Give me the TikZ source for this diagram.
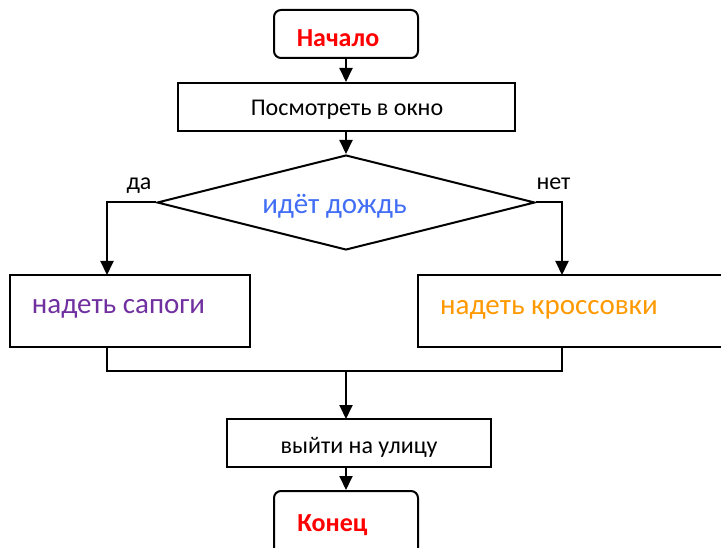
\documentclass[tikz,border=0pt]{standalone}
\usepackage{fontspec}
\setmainfont{Carlito}
\usetikzlibrary{shapes.geometric,arrows.meta}
\definecolor{cred}{RGB}{255,0,0}
\definecolor{cblue}{RGB}{65,110,245}
\definecolor{cpurple}{RGB}{112,48,160}
\definecolor{corange}{RGB}{255,153,0}
\begin{document}
\begin{tikzpicture}[x=1pt,y=-1pt,
  line width=2pt,
  arr/.style={-{Triangle[length=14pt,width=13pt]}},
  boxA/.style={draw,rectangle,inner sep=0pt},
  termbox/.style={draw,rectangle,rounded corners=7pt,inner sep=0pt},
  txtS/.style={inner sep=0pt,anchor=base,font=\fontsize{24}{28}\selectfont},
  txtB/.style={inner sep=0pt,anchor=base,font=\fontsize{29}{34}\selectfont},
  txtT/.style={inner sep=0pt,anchor=base,text=cred,font=\bfseries\fontsize{26}{30}\selectfont}]
\useasboundingbox (0,0) rectangle (721,548);
\clip (0,0) rectangle (721,548);
% boxes
\node[termbox,minimum width=144pt,minimum height=48pt] (start) at (346,34) {};
\node[boxA,minimum width=337pt,minimum height=48pt] (look) at (346.5,107) {};
\node[draw,diamond,inner sep=0pt,minimum width=378pt,minimum height=95pt] (dec) at (346,202.5) {};
\node[boxA,minimum width=240pt,minimum height=72pt] (left) at (130,311) {};
\node[boxA,minimum width=330pt,minimum height=72pt] (right) at (583,311) {};
\node[boxA,minimum width=264pt,minimum height=48pt] (exit) at (359,443) {};
\node[termbox,minimum width=144pt,minimum height=70pt] (end) at (346,526) {};
% texts
\node[txtT] (tstart) at (338,47) {Начало};
\node[txtS] (tlook) at (347,116) {Посмотреть в окно};
\node[txtB,text=cblue] (tdec) at (334.5,214) {идёт дождь};
\node[txtS] (tyes) at (139,190) {да};
\node[txtS] (tno) at (553.5,190) {нет};
\node[txtB,text=cpurple] (tleft) at (118.5,314) {надеть сапоги};
\node[txtB,text=corange] (tright) at (549,315) {надеть кроссовки};
\node[txtS] (texit) at (359,453) {выйти на улицу};
\node[txtT] (tend) at (332.5,531) {Конец};
% connector coordinates
\coordinate (lin) at (107,275);
\coordinate (rin) at (562,275);
\coordinate (lout) at (107,347);
\coordinate (rout) at (562,347);
\coordinate (mj) at (346,371);
\coordinate (ein) at (346,419);
\coordinate (eout) at (346,467);
% connectors
\draw[arr] (start.south -| ein) -- (look.north -| ein);
\draw[arr] (look.south -| dec.north) -- (dec.north);
\draw[arr] (dec.west) -| (lin);
\draw[arr] (dec.east) -| (rin);
\draw (lout) |- (mj);
\draw (rout) |- (mj);
\draw[arr] (mj) -- (ein);
\draw[arr] (eout) -- (end.north);
\end{tikzpicture}
\end{document}
